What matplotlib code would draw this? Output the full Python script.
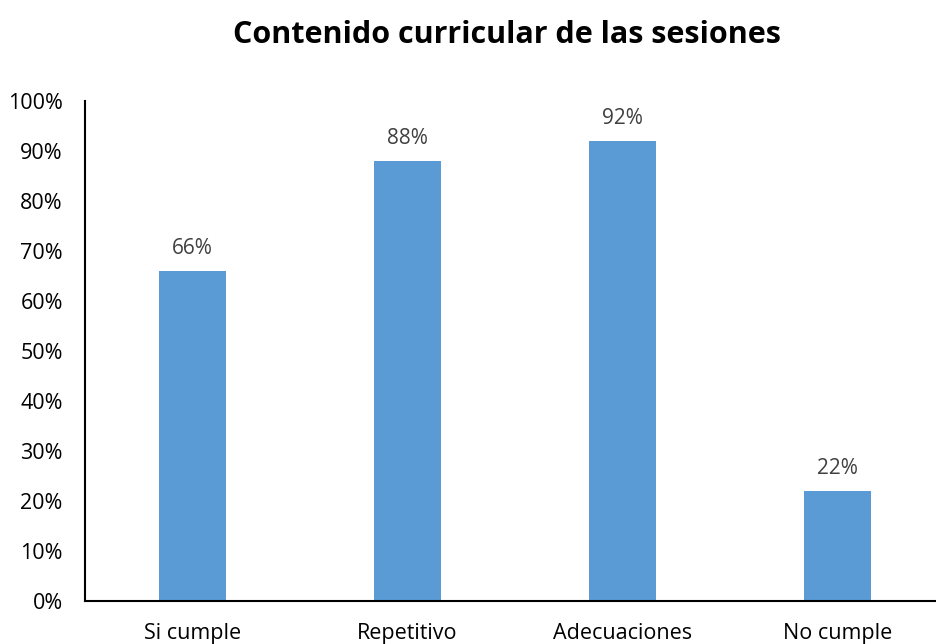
import matplotlib.pyplot as plt
from matplotlib.ticker import PercentFormatter

plt.rcParams['font.family'] = ['Open Sans', 'DejaVu Sans']

categories = ['Si cumple', 'Repetitivo', 'Adecuaciones', 'No cumple']
values = [66, 88, 92, 22]
yticks = list(range(0, 101, 10))

fig = plt.figure(figsize=(9.37, 6.44), dpi=100)
ax = fig.add_axes([85 / 937, 43 / 644, 860 / 937, 500 / 644])

x = range(len(categories))
bars = ax.bar(x, values, width=0.315, color='#5B9BD5', zorder=2)

for xi, v in zip(x, values):
    ax.text(xi, v + 2.3, f'{v}%', ha='center', va='bottom', fontsize=15, color='#404040')

ax.set_xlim(-0.5, len(categories) - 0.5)
ax.set_ylim(0, 100)
ax.set_yticks(yticks)
ax.yaxis.set_major_formatter(PercentFormatter(decimals=0))
ax.set_xticks(list(x))
ax.set_xticklabels(categories)
ax.tick_params(axis='both', length=0, labelsize=15.5, colors='black')
ax.tick_params(axis='x', pad=16)
ax.tick_params(axis='y', pad=16)

for side in ['top', 'right']:
    ax.spines[side].set_visible(False)
for side in ['left', 'bottom']:
    ax.spines[side].set_linewidth(1.5)
    ax.spines[side].set_zorder(3)

fig.text(507 / 937, 1 - 35 / 644, 'Contenido curricular de las sesiones',
         ha='center', va='center', fontsize=22, fontweight='bold')

fig.savefig('out.png', dpi=100)
